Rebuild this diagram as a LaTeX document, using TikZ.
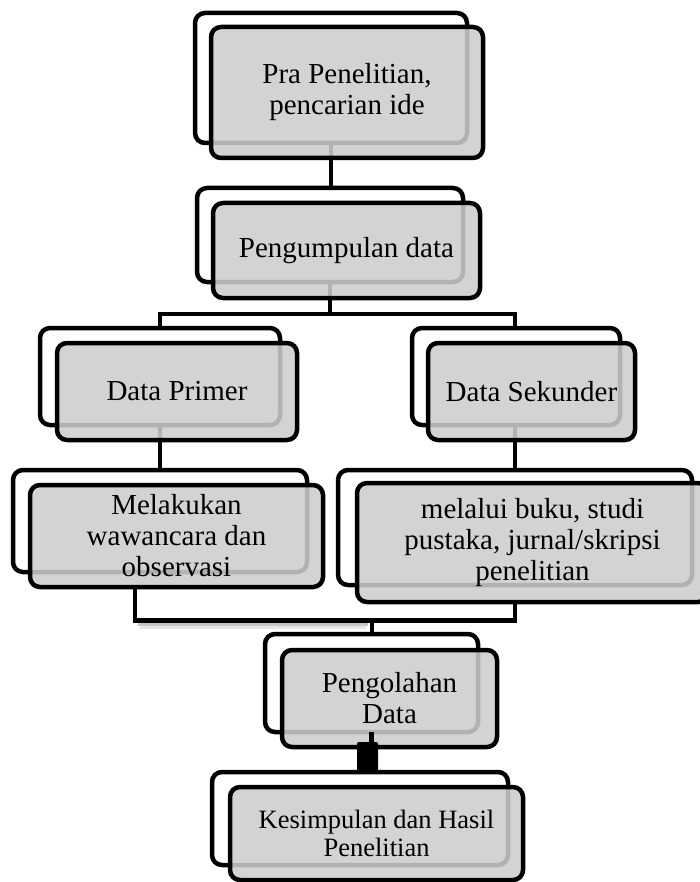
\documentclass[tikz,border=0pt]{standalone}
\usepackage{fontspec}
\setmainfont{Liberation Serif}
\definecolor{boxgray}{RGB}{205,205,205}
\begin{document}
\begin{tikzpicture}[x=1pt,y=-1pt,
  box/.style={draw=black, line width=4.5pt, rounded corners=10pt, inner sep=0pt, outer sep=0pt},
  backbox/.style={box},
  frontbox/.style={box, fill=boxgray, fill opacity=0.87, text opacity=1, align=center,
    font=\fontsize{29}{31}\selectfont},
  smallfront/.style={frontbox, font=\fontsize{26.5}{28}\selectfont},
  conn/.style={line width=4.5pt},
  connshadow/.style={line width=3pt, black!22}]
\useasboundingbox (0,0) rectangle (700,882);
\clip (0,0) rectangle (700,882);

% back boxes
\node[backbox, minimum width=272pt, minimum height=130pt] (b1) at (331,78) {};
\node[backbox, minimum width=266pt, minimum height=94pt]  (b2) at (330,235) {};
\node[backbox, minimum width=240pt, minimum height=97pt]  (b3) at (160,376.5) {};
\node[backbox, minimum width=208pt, minimum height=97pt]  (b4) at (516,376.5) {};
\node[backbox, minimum width=294pt, minimum height=102pt] (b5) at (160,521) {};
\node[backbox, minimum width=354pt, minimum height=115pt] (b6) at (515,527.5) {};
\node[backbox, minimum width=213pt, minimum height=98pt]  (b7) at (371.5,683) {};
\node[backbox, minimum width=296pt, minimum height=93pt]  (b8) at (360,818.5) {};

% junction points
\coordinate (j1) at (330,314);
\coordinate (j3) at (372,620.5);

% connectors
\draw[conn] (b1.south) -- (b1.south |- b2.north);
\draw[conn] (b2.south) -- (b2.south |- j1);
\draw[conn] (b3.north) |- (j1) -| ([xshift=-1pt]b4.north);
\draw[conn] (b3.south) -- (b3.south |- b5.north);
\draw[conn] ([xshift=-1pt]b4.south) -- ([xshift=-1pt]b4.south |- b6.north);
\draw[connshadow] (138,624.5) -- (368,624.5);
\draw[black!10, line width=3pt] (140,627) -- (366,627);

% front boxes
\node[frontbox, minimum width=272pt, minimum height=131pt] (f1) at (347,92.5) {Pra Penelitian,\\pencarian ide};
\node[frontbox, minimum width=267pt, minimum height=95pt]  (f2) at (346.5,250.5) {Pengumpulan data};
\node[frontbox, minimum width=240pt, minimum height=97pt]  (f3) at (177,391.5) {Data Primer};
\node[frontbox, minimum width=207pt, minimum height=97pt]  (f4) at (531.5,391.5) {Data Sekunder};
\node[frontbox, minimum width=293pt, minimum height=102pt] (f5) at (176.5,536) {Melakukan\\wawancara dan\\observasi};
\node[frontbox, minimum width=351pt, minimum height=119pt] (f6) at (532.5,542.5) {melalui buku, studi\\pustaka, jurnal/skripsi\\penelitian};
\node[frontbox, minimum width=215pt, minimum height=97pt]  (f7) at (389.5,698.5) {Pengolahan\\Data};
\node[smallfront, minimum width=293pt, minimum height=93pt] (f8) at (376.5,833.5) {Kesimpulan dan Hasil\\Penelitian};

% connectors that start on the front boxes
\draw[conn] ([xshift=-41.5pt]f5.south) |- (j3);
\draw[conn] (f6.south -| b6.south) |- (j3);
\draw[conn] (j3) -- (j3 |- b7.north);
\draw[conn] (b7.south) -- (b7.south |- b8.north);

% thick bar between Pengolahan and Kesimpulan
\node[fill=black, rounded corners=2pt, minimum width=21pt, minimum height=31pt, inner sep=0pt] (bar) at (367.5,757.5) {};
\end{tikzpicture}
\end{document}
